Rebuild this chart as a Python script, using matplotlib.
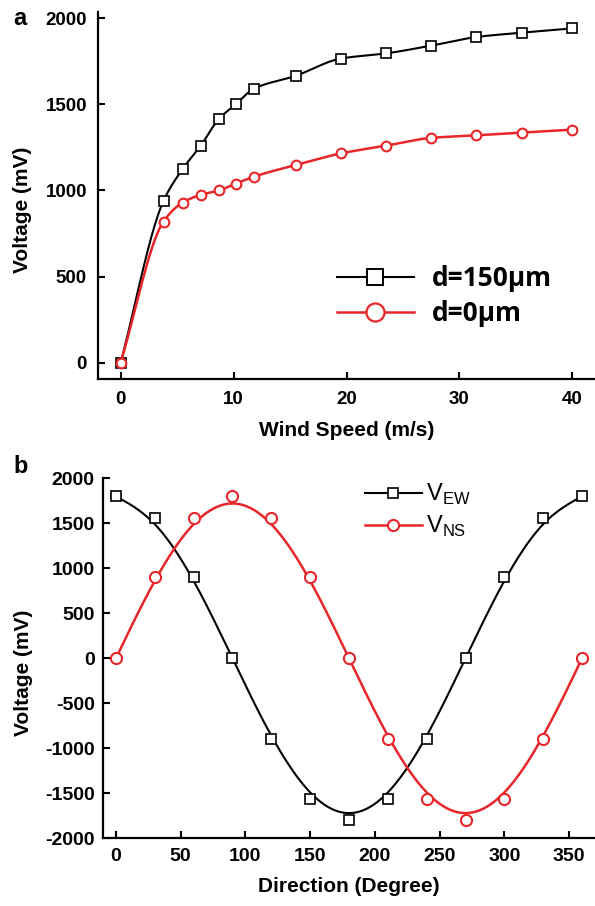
import matplotlib.pyplot as plt
import numpy as np
from matplotlib.lines import Line2D

# panel a: output voltage vs wind speed
speed = [0, 3.8, 5.5, 7.1, 8.7, 10.2, 11.8, 15.5, 19.5, 23.5, 27.5, 31.5, 35.5, 40]
v_150 = [0, 940, 1125, 1260, 1415, 1500, 1590, 1665, 1765, 1795, 1840, 1890, 1915, 1940]
v_0 = [0, 820, 930, 975, 1000, 1040, 1080, 1148, 1215, 1260, 1305, 1320, 1336, 1353]

# panel b: output voltage vs wind direction
angle = [0, 30, 60, 90, 120, 150, 180, 210, 240, 270, 300, 330, 360]
v_ew = [1800, 1560, 900, 0, -900, -1560, -1800, -1560, -900, 0, 900, 1560, 1800]
v_ns = [0, 900, 1560, 1800, 1560, 900, 0, -900, -1560, -1800, -1560, -900, 0]


def pchip(x, y, n=400):
    """Shape-preserving cubic through the points (no overshoot)."""
    x = np.asarray(x, float)
    y = np.asarray(y, float)
    h = np.diff(x)
    delta = np.diff(y) / h
    d = np.zeros_like(y)
    for i in range(1, len(x) - 1):
        if delta[i - 1] * delta[i] > 0:
            w1 = 2 * h[i] + h[i - 1]
            w2 = h[i] + 2 * h[i - 1]
            d[i] = (w1 + w2) / (w1 / delta[i - 1] + w2 / delta[i])
    d[0] = delta[0]
    d[-1] = delta[-1]
    xs = np.linspace(x[0], x[-1], n)
    k = np.clip(np.searchsorted(x, xs) - 1, 0, len(x) - 2)
    t = (xs - x[k]) / h[k]
    h00 = 2 * t ** 3 - 3 * t ** 2 + 1
    h10 = t ** 3 - 2 * t ** 2 + t
    h01 = -2 * t ** 3 + 3 * t ** 2
    h11 = t ** 3 - t ** 2
    ys = h00 * y[k] + h10 * h[k] * d[k] + h01 * y[k + 1] + h11 * h[k] * d[k + 1]
    return xs, ys


def bspline(x, y, per_seg=30):
    """Uniform cubic B-spline with clamped ends, like Origin's 'B-Spline'."""
    p = np.column_stack([x, y]).astype(float)
    p = np.vstack([p[:1], p[:1], p, p[-1:], p[-1:]])
    t = np.linspace(0, 1, per_seg, endpoint=False)[:, None]
    b0 = (1 - t) ** 3 / 6
    b1 = (3 * t ** 3 - 6 * t ** 2 + 4) / 6
    b2 = (-3 * t ** 3 + 3 * t ** 2 + 3 * t + 1) / 6
    b3 = t ** 3 / 6
    segs = [b0 * p[i] + b1 * p[i + 1] + b2 * p[i + 2] + b3 * p[i + 3]
            for i in range(len(p) - 3)]
    pts = np.vstack(segs + [p[-1:]])
    return pts[:, 0], pts[:, 1]


plt.rcParams['font.family'] = ['Liberation Sans', 'DejaVu Sans']
plt.rcParams['axes.unicode_minus'] = False
RED = '#e8262a'

fig = plt.figure(figsize=(5.95, 9.06), dpi=100)
W, H = 595, 906


def style(ax, fs, pad_x, pad_y):
    for s in ('top', 'right'):
        ax.spines[s].set_visible(False)
    for s in ('left', 'bottom'):
        ax.spines[s].set_linewidth(1.6)
    ax.tick_params(direction='in', length=5, width=1.5, labelsize=fs)
    ax.tick_params(axis='x', pad=pad_x)
    ax.tick_params(axis='y', pad=pad_y)
    for lab in ax.get_xticklabels() + ax.get_yticklabels():
        lab.set_fontweight('bold')


# ---- panel a ----
ax1 = fig.add_axes([98 / W, 1 - 379 / H, 497 / W, 367 / H])
xs, ys = pchip(speed, v_150)
ax1.plot(xs, ys, color='black', lw=1.5)
ax1.plot(speed, v_150, 's', ms=6.5, mfc='white', mec='black', mew=1.2)
xs, ys = pchip(speed, v_0)
ax1.plot(xs, ys, color=RED, lw=1.8)
ax1.plot(speed, v_0, 'o', ms=7, mfc='white', mec=RED, mew=1.5)
ax1.set_xlim(-2, 42)
ax1.set_ylim(-93, 2035)
ax1.set_xticks([0, 10, 20, 30, 40])
ax1.set_yticks([0, 500, 1000, 1500, 2000])
style(ax1, 13.5, 9, 8)
ax1.set_xlabel('Wind Speed (m/s)', fontsize=15, fontweight='bold')
ax1.set_ylabel('Voltage (mV)', fontsize=15, fontweight='bold')
ax1.xaxis.set_label_coords(0.5, -0.115)
ax1.yaxis.set_label_coords(-0.133, 0.46)

h1 = [Line2D([], [], color='black', lw=1.5, marker='s', ms=11, mfc='white',
             mec='black', mew=1.4),
      Line2D([], [], color=RED, lw=1.8, marker='o', ms=13, mfc='white',
             mec=RED, mew=1.6)]
ax1.legend(h1, ['d=150µm', 'd=0µm'], loc='upper left', frameon=False,
           bbox_to_anchor=(337 / W, 1 - 265 / H), bbox_transform=fig.transFigure,
           borderpad=0, borderaxespad=0, handlelength=2.9, handletextpad=0.7,
           labelspacing=0.3, prop={'family': 'Open Sans', 'weight': 'bold', 'size': 19})

# ---- panel b ----
ax2 = fig.add_axes([103 / W, 1 - 838.3 / H, 492 / W, 360 / H])
xs, ys = bspline(angle, v_ew)
ax2.plot(xs, ys, color='black', lw=1.5)
ax2.plot(angle, v_ew, 's', ms=7, mfc='white', mec='black', mew=1.2)
xs, ys = bspline(angle, v_ns)
ax2.plot(xs, ys, color=RED, lw=1.8)
ax2.plot(angle, v_ns, 'o', ms=8, mfc='white', mec=RED, mew=1.5)
ax2.set_xlim(-10, 370)
ax2.set_ylim(-2000, 2000)
ax2.set_xticks(np.arange(0, 351, 50))
ax2.set_yticks(np.arange(-2000, 2001, 500))
style(ax2, 14, 7, 6)
ax2.set_xlabel('Direction (Degree)', fontsize=15, fontweight='bold')
ax2.set_ylabel('Voltage (mV)', fontsize=15, fontweight='bold')
ax2.xaxis.set_label_coords(0.5, -0.1075)
ax2.yaxis.set_label_coords(-0.142, 0.459)

h2 = [Line2D([], [], color='black', lw=1.5, marker='s', ms=7, mfc='white',
             mec='black', mew=1.2),
      Line2D([], [], color=RED, lw=1.8, marker='o', ms=8, mfc='white',
             mec=RED, mew=1.5)]
ax2.legend(h2, [r'V$_{\mathregular{EW}}$', r'V$_{\mathregular{NS}}$'],
           loc='upper left', frameon=False,
           bbox_to_anchor=(365 / W, 1 - 482 / H), bbox_transform=fig.transFigure,
           borderpad=0, borderaxespad=0, handlelength=2.4, handletextpad=0.2,
           labelspacing=0.3, fontsize=17)

# panel letters
fig.text(13 / W, 1 - 7 / H, 'a', fontsize=17, fontweight='bold', va='top')
fig.text(13 / W, 1 - 455 / H, 'b', fontsize=17, fontweight='bold', va='top')

fig.savefig('out.png', dpi=100)
